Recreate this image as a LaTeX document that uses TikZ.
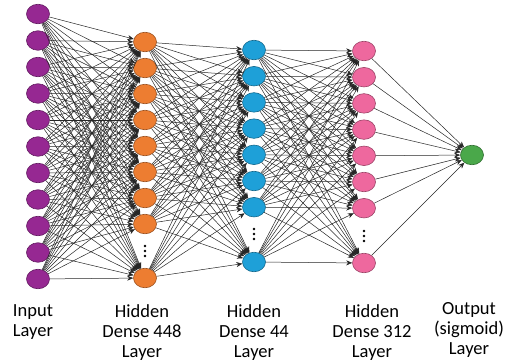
\documentclass[tikz,border=0pt]{standalone}
\usepackage{fontspec}
\setmainfont{Carlito}
\usetikzlibrary{arrows.meta,shapes.geometric}
\definecolor{cpurple}{RGB}{150,40,146}
\definecolor{corange}{RGB}{237,125,49}
\definecolor{cblue}{RGB}{30,160,216}
\definecolor{cpink}{RGB}{238,104,158}
\definecolor{cgreen}{RGB}{74,168,74}
\begin{document}
\begin{tikzpicture}[x=1pt,y=-1pt,
  neuron/.style={ellipse,minimum width=23pt,minimum height=19.5pt,inner sep=0pt,line width=0.6pt},
  conn/.style={draw=black!85,line width=0.5pt,-{Stealth[length=6pt,width=5pt]}},
  lab/.style={align=center,inner sep=0pt,anchor=north,font=\fontsize{18.5}{20}\selectfont},
  dotc/.style={fill=black}]
\useasboundingbox (0,0) rectangle (514,364);
% nodes
\foreach \i in {1,...,11}
  \node[neuron,fill=cpurple,draw=cpurple!65!black] (a\i) at (38,{14+26.5*(\i-1)}) {};
\foreach \i in {1,...,8}
  \node[neuron,fill=corange,draw=corange!65!black] (b\i) at (145,{42+26*(\i-1)}) {};
\node[neuron,fill=corange,draw=corange!65!black] (b9) at (145,278) {};
\foreach \i in {1,...,7}
  \node[neuron,fill=cblue,draw=cblue!65!black] (c\i) at (254,{50+26.2*(\i-1)}) {};
\node[neuron,fill=cblue,draw=cblue!65!black] (c8) at (254,262) {};
\foreach \i in {1,...,7}
  \node[neuron,fill=cpink,draw=cpink!65!black] (d\i) at (364,{51+26.2*(\i-1)}) {};
\node[neuron,fill=cpink,draw=cpink!65!black] (d8) at (364,263) {};
\node[neuron,fill=cgreen,draw=cgreen!65!black] (o) at (472,155) {};
% connections
\foreach \i in {1,...,11}
  \foreach \j in {1,...,9}
    \draw[conn] (a\i) -- (b\j);
\foreach \i in {1,...,9}
  \foreach \j in {1,...,8}
    \draw[conn] (b\i) -- (c\j);
\foreach \i in {1,...,8}
  \foreach \j in {1,...,8}
    \draw[conn] (c\i) -- (d\j);
\foreach \i in {1,...,8}
  \draw[conn] (d\i) -- (o);
% dots
\foreach \x/\y in {145/251,254/234,364/236}
  \foreach \dy in {-5,0,5}
    \fill[dotc] (\x,{\y+\dy}) circle (1.4pt);
% labels
\node[lab] (l1) at (33,304) {Input\\Layer};
\node[lab] (l2) at (142,304) {Hidden\\Dense 448\\Layer};
\node[lab] (l3) at (254,304) {Hidden\\Dense 44\\Layer};
\node[lab] (l4) at (372,304) {Hidden\\Dense 312\\Layer};
\node[lab] (l5) at (469,302) {Output\\(sigmoid)\\Layer};
\end{tikzpicture}
\end{document}
